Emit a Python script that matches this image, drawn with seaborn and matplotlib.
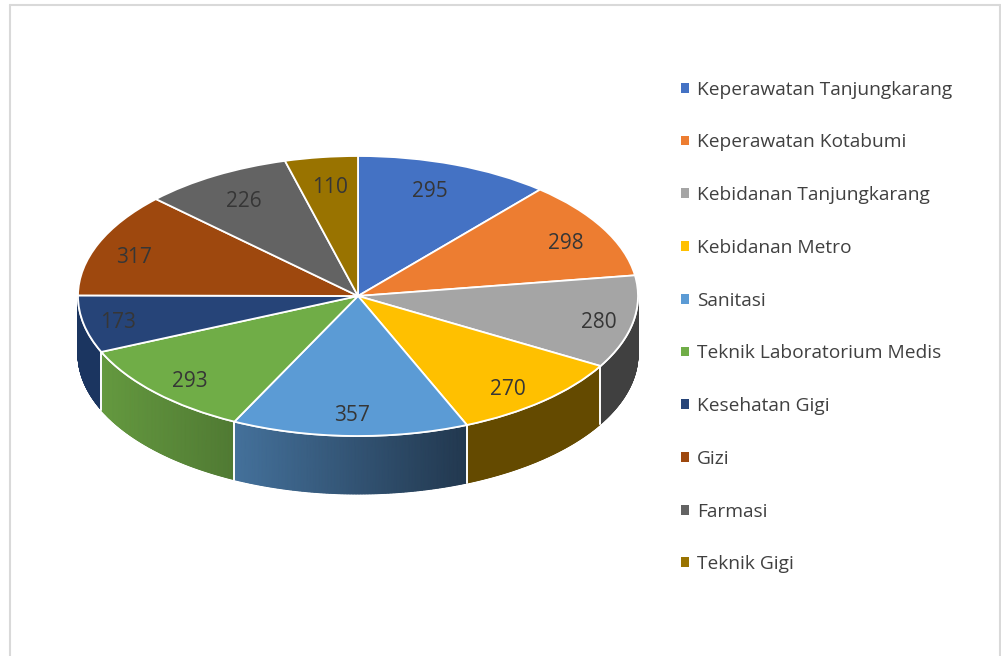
import numpy as np
import matplotlib
matplotlib.use("Agg")
import matplotlib.pyplot as plt
from matplotlib.colors import LinearSegmentedColormap
from matplotlib.lines import Line2D
from matplotlib.patches import Patch
import seaborn as sns

categories = ["Keperawatan Tanjungkarang", "Keperawatan Kotabumi", "Kebidanan Tanjungkarang",
              "Kebidanan Metro", "Sanitasi", "Teknik Laboratorium Medis", "Kesehatan Gigi",
              "Gizi", "Farmasi", "Teknik Gigi"]
values = [295, 298, 280, 270, 357, 293, 173, 317, 226, 110]
top_colors = ["#4472C4", "#ED7D31", "#A5A5A5", "#FFC000", "#5B9BD5",
              "#70AD47", "#264478", "#9E480E", "#636363", "#997300"]
wall_left = ["#2A4680", "#8F4B1D", "#404040", "#644A00", "#44719B",
             "#64993F", "#1B3560", "#6A300A", "#404040", "#664A00"]
wall_right = ["#2A4680", "#8F4B1D", "#404040", "#644A00", "#22384F",
              "#507A33", "#1B3560", "#6A300A", "#404040", "#664A00"]
label_px = [(430, 189), (566, 241), (599, 320), (508, 387), (352, 413),
            (190, 379), (118, 320), (134, 255), (244, 199), (330, 185)]

W, H = 1001, 656
CX, CY, RX, RY, DEPTH = 358, 296, 280, 140, 58

sns.set_theme(style="white")
plt.rcParams["font.family"] = ["Open Sans", "DejaVu Sans"]
palette = sns.color_palette(top_colors)

fig = plt.figure(figsize=(W / 100, H / 100), dpi=100, facecolor="white")
ax = fig.add_axes([0, 0, 1, 1])

wedges, _ = ax.pie(values, colors=palette, startangle=90, counterclock=False, radius=1,
                   wedgeprops=dict(edgecolor="white", linewidth=1.3, zorder=5))
ax.set_aspect("auto")
ax.set_xlim(-CX / RX, (W - CX) / RX)
ax.set_ylim(-(H - CY) / RY, CY / RY)
ax.axis("off")

depth = DEPTH / RY
edges = 90 - np.concatenate([[0], np.cumsum(values)]) / sum(values) * 360
for i in range(len(values)):
    a0, a1 = edges[i], edges[i + 1]
    th = np.radians(np.linspace(a0, a1, 160))
    keep = np.sin(th) <= 1e-9
    if keep.sum() < 2:
        continue
    th = th[keep]
    x, y = np.cos(th), np.sin(th)
    X = np.vstack([x, x])
    Y = np.vstack([y, y - depth])
    C = (X - x.min()) / max(x.max() - x.min(), 1e-6)
    cmap = LinearSegmentedColormap.from_list(f"w{i}", [wall_left[i], wall_right[i]])
    ax.pcolormesh(X, Y, C, shading="gouraud", cmap=cmap, vmin=0, vmax=1, zorder=2, rasterized=True)
    ax.plot(x, y, color="white", lw=1.3, zorder=3)
    for k in (0, -1):
        if abs(np.sin(th[k])) > 0.02:
            ax.plot([x[k], x[k]], [y[k], y[k] - depth], color="white", lw=1.2, zorder=3)

for v, (px, py) in zip(values, label_px):
    ax.text((px - CX) / RX, (CY - py - 2.5) / RY, str(v), ha="center", va="center",
            fontsize=15, color="#363636", zorder=6)

handles = [Patch(facecolor=c, edgecolor="none") for c in palette]
leg = ax.legend(handles, categories, loc="upper left", frameon=False,
                bbox_to_anchor=(673 / W, 1 - 73 / H), bbox_transform=fig.transFigure,
                fontsize=13.8, labelcolor="#404040", labelspacing=1.812,
                handlelength=0.41, handleheight=0.41, handletextpad=0.44,
                borderpad=0.4, borderaxespad=0)

frame = dict(color="#D9D9D9", lw=1.5, transform=fig.transFigure)
fig.add_artist(Line2D([10 / W, 10 / W], [0, 1 - 5 / H], **frame))
fig.add_artist(Line2D([10 / W, 1000 / W], [1 - 5 / H, 1 - 5 / H], **frame))
fig.add_artist(Line2D([1000 / W, 1000 / W], [0, 1 - 5 / H], **frame))

fig.savefig("out.png", dpi=100, facecolor="white")
